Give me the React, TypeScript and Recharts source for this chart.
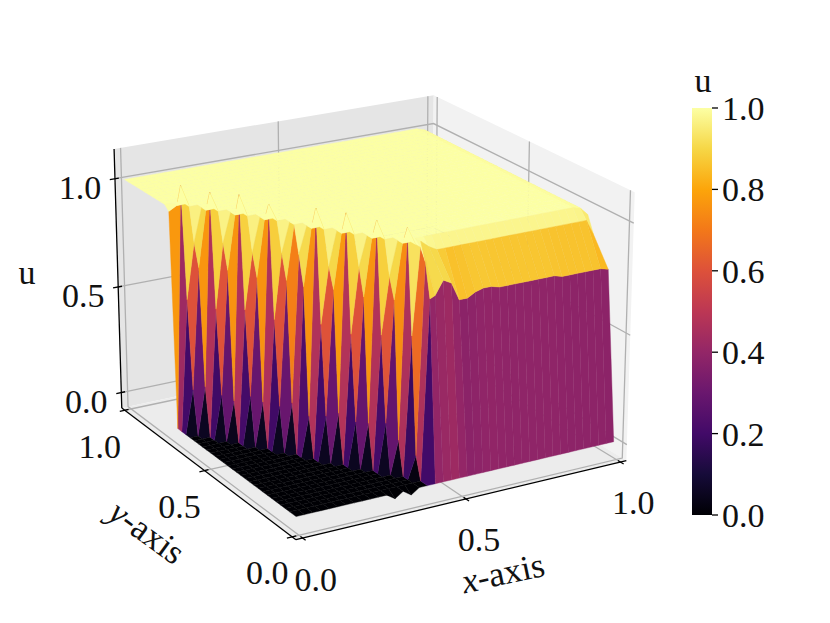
import { Bar, BarChart, ComposedChart, Line, XAxis, YAxis } from 'recharts';

const WIDTH = 830;
const HEIGHT = 623;

// surface samples: u jumps from 0 to 1 along a stepped front, columns are x, rows are y
const columnPositions = [
  0, 0.025, 0.05, 0.075, 0.1, 0.125, 0.15, 0.175, 0.2, 0.225, 0.25, 0.275, 0.3, 0.325, 0.35, 0.375, 0.4, 0.425, 0.45,
  0.475, 0.5, 0.525, 0.55, 0.575, 0.6, 0.625, 0.65, 0.675, 0.7, 0.725, 0.75, 0.775, 0.8, 0.825, 0.85, 0.875, 0.9,
  0.925, 0.95, 0.975, 1,
];
// rows of the oscillating part (x below 0.45)
const rowPositions = [
  0.015, 0.05, 0.075, 0.1, 0.125, 0.15, 0.175, 0.2, 0.225, 0.25, 0.275, 0.3, 0.325, 0.35, 0.375, 0.4, 0.425, 0.45,
  0.475, 0.5, 0.525, 0.55, 0.575, 0.6, 0.625, 0.65, 0.675, 0.7, 0.725, 0.75, 0.775, 0.8, 0.825, 0.85, 0.875, 0.9,
  0.925, 0.95, 0.975, 1,
];
// rows of the smooth part (x from 0.45)
const smoothRowPositions = [
  0.015, 0.065, 0.14, 0.17, 0.18, 0.19, 0.2, 0.21, 0.225, 0.25, 0.275, 0.3, 0.325, 0.35, 0.375, 0.4, 0.425, 0.45,
  0.475, 0.5, 0.525, 0.55, 0.575, 0.6, 0.625, 0.65, 0.675, 0.7, 0.725, 0.75, 0.775, 0.8, 0.825, 0.85, 0.875, 0.9,
  0.925, 0.95, 0.975, 1,
];
const frontRow = [
  28, 26, 25, 23, 22, 20, 19, 17, 16, 14, 12, 11, 9, 8, 6, 5, 3, 1, 1, 1, 1, 1, 1, 1, 1, 1, 1, 1, 1, 1, 1, 1, 1, 1, 1,
  1, 1, 1, 1, 1, 1,
];
const edgeRow = [
  0, 0, 0, 0, 0, 0, 0, 0, 0, 0, 0, 0, -0.025, 0, -0.025, 0, 0, 0, 0, 0, 0, 0, 0, 0, 0, 0, 0, 0, 0, 0, 0, 0, 0, 0, 0, 0,
  0, 0, 0, 0, 0,
];
const leadStep = [
  0, 0.2, 0.22, 0.2, 0.18, 0.22, 0.2, 0.2, 0.22, 0.18, 0.2, 0.22, 0.2, 0.2, 0.22, 0.15, 0.1, 0, 0, 0, 0, 0, 0, 0,
  0, 0, 0, 0, 0, 0, 0, 0, 0, 0, 0, 0, 0, 0, 0, 0, 0,
];
const firstStep = [
  0.98, 0.6, 0.75, 0.58, 0.76, 0.6, 0.75, 0.58, 0.76, 0.75, 0.6, 0.76, 0.58, 0.75, 0.6, 0.76, 0.62, 0.8, 0.8, 0.86, 0.84,
  0.76, 0.76, 0.78, 0.79, 0.79, 0.78, 0.78, 0.78, 0.78, 0.78, 0.78, 0.78, 0.78, 0.77, 0.77, 0.77, 0.77, 0.77, 0.77, 0.76,
];
const secondStep = [
  1, 1.1, 0.85, 1.09, 0.87, 1.1, 0.85, 1.08, 0.87, 0.88, 1.1, 0.85, 1.1, 0.87, 1.09, 0.85, 1.08, 0.95, 1, 0.97, 0.95,
  0.95, 0.95, 0.95, 0.95, 0.95, 0.95, 0.95, 0.95, 0.95, 0.95, 0.95, 0.95, 0.95, 0.95, 0.95, 0.95, 0.95, 0.95, 0.95, 0.88,
];
const plateauLevel = [
  1, 1, 1, 1, 1, 1, 1, 1, 1, 1, 1, 1, 1, 1, 1, 1, 1, 1, 1, 1, 1, 1, 1, 1, 1, 1, 1, 1, 1, 1, 1, 1, 1, 1, 1, 1, 1, 1, 1,
  0.99, 0.955,
];
const FIRST_SMOOTH_COLUMN = 18;

const axisTicks = [0, 0.5, 1];
const colorbarTicks = [0, 0.2, 0.4, 0.6, 0.8, 1];
const infernoStops = [
  '#000004', '#160b39', '#420a68', '#6a176e', '#932667', '#bc3754', '#dd513a', '#f37819', '#fca50a', '#f6d746', '#fcffa4',
];

const X_LIM = [-0.02, 1.02];
const Z_LIM = [-0.074, 1.135];
const BOX = [1.1905, 1.1905, 0.8929];
const ELEV = (20.5 * Math.PI) / 180;
const AZIM = (-120 * Math.PI) / 180;
const DIST = 10;
const SCALE = 3150;
const CENTER = [369, 304];

const w3 = [Math.cos(ELEV) * Math.cos(AZIM), Math.cos(ELEV) * Math.sin(AZIM), Math.sin(ELEV)];
const len = Math.hypot(w3[0], w3[1]);
const u3 = [-w3[1] / len, w3[0] / len, 0];
const v3 = [
  w3[1] * u3[2] - w3[2] * u3[1],
  w3[2] * u3[0] - w3[0] * u3[2],
  w3[0] * u3[1] - w3[1] * u3[0],
];

// same camera as a matplotlib 3d axes
function project(x: number, y: number, z: number) {
  const p = [
    ((x - X_LIM[0]) / (X_LIM[1] - X_LIM[0]) - 0.5) * BOX[0],
    ((y - X_LIM[0]) / (X_LIM[1] - X_LIM[0]) - 0.5) * BOX[1],
    ((z - Z_LIM[0]) / (Z_LIM[1] - Z_LIM[0]) - 0.5) * BOX[2],
  ];
  const d = p.map((c, i) => c - w3[i] * DIST);
  const depth = d[0] * w3[0] + d[1] * w3[1] + d[2] * w3[2];
  const sx = (d[0] * u3[0] + d[1] * u3[1] + d[2] * u3[2]) / -depth;
  const sy = (d[0] * v3[0] + d[1] * v3[1] + d[2] * v3[2]) / -depth;
  return { px: CENTER[0] + SCALE * sx, py: CENTER[1] - SCALE * sy, depth };
}

function inferno(t: number) {
  const s = Math.min(Math.max(t, 0), 1) * 10;
  const i = Math.min(Math.floor(s), 9);
  const a = parseInt(infernoStops[i].slice(1), 16);
  const b = parseInt(infernoStops[i + 1].slice(1), 16);
  const mix = (shift: number) => {
    const ca = (a >> shift) & 255;
    const cb = (b >> shift) & 255;
    return Math.round(ca + (cb - ca) * (s - i));
  };
  return `rgb(${mix(16)},${mix(8)},${mix(0)})`;
}

function sampleU(i: number, j: number) {
  const k = j - frontRow[i];
  if (j === 0) return edgeRow[i];
  if (k < -1) return 0;
  if (k === -1) return leadStep[i];
  if (k === 0) return firstStep[i];
  if (k === 1) return secondStep[i];
  return plateauLevel[i];
}

function samplePoint(i: number, j: number) {
  const rows = i >= FIRST_SMOOTH_COLUMN ? smoothRowPositions : rowPositions;
  return [columnPositions[i], rows[j], sampleU(i, j)];
}

type Prim = { pts: number[][]; fill: string; stroke: string; width: number };

function toVertices(prims: Prim[]) {
  return prims.flatMap((prim, id) =>
    prim.pts.map((pt, corner) => {
      const { px, py } = project(pt[0], pt[1], pt[2]);
      return { px, py, id, corner, count: prim.pts.length, fill: prim.fill, stroke: prim.stroke, width: prim.width };
    }),
  );
}

const [lo, hi] = X_LIM;
const [zLo, zHi] = Z_LIM;

const panes: Prim[] = [
  { pts: [[lo, hi, zLo], [hi, hi, zLo], [hi, hi, zHi], [lo, hi, zHi]], fill: '#e5e5e5', stroke: 'none', width: 0 },
  { pts: [[hi, lo, zLo], [hi, hi, zLo], [hi, hi, zHi], [hi, lo, zHi]], fill: '#f2f2f2', stroke: 'none', width: 0 },
  { pts: [[lo, lo, zLo], [hi, lo, zLo], [hi, hi, zLo], [lo, hi, zLo]], fill: '#ececec', stroke: 'none', width: 0 },
];

const GRID = { fill: 'none', stroke: '#b0b0b0', width: 1.3 };
const INK = { fill: 'none', stroke: '#000', width: 1.3 };
const gridLines: Prim[] = axisTicks.flatMap((t) => [
  { pts: [[t, lo, zLo], [t, hi, zLo], [t, hi, zHi]], ...GRID },
  { pts: [[lo, t, zLo], [hi, t, zLo], [hi, t, zHi]], ...GRID },
  { pts: [[lo, hi, t], [hi, hi, t], [hi, lo, t]], ...GRID },
]);
const axisLines: Prim[] = [
  { pts: [[lo, lo, zLo], [hi, lo, zLo]], ...INK },
  { pts: [[lo, lo, zLo], [lo, hi, zLo]], ...INK },
  { pts: [[lo, hi, zLo], [lo, hi, zHi]], ...INK },
  ...axisTicks.flatMap((t) => [
    { pts: [[t, lo + 0.012, zLo], [t, lo - 0.016, zLo]], ...INK },
    { pts: [[lo + 0.012, t, zLo], [lo - 0.016, t, zLo]], ...INK },
    { pts: [[lo + 0.012, hi, t], [lo - 0.016, hi, t]], ...INK },
  ]),
];

const surfaceCells = columnPositions.slice(0, -1).flatMap((_x, i) =>
  rowPositions.slice(0, -1).map((_y, j) => {
    const pts = [samplePoint(i, j), samplePoint(i + 1, j), samplePoint(i + 1, j + 1), samplePoint(i, j + 1)];
    const mean = (pts[0][2] + pts[1][2] + pts[2][2] + pts[3][2]) / 4;
    const depth = pts.reduce((sum, p) => sum + project(p[0], p[1], p[2]).depth, 0) / 4;
    const fill = inferno(mean);
    return { pts, fill, stroke: fill, width: 0.4, depth };
  }),
);
surfaceCells.sort((a, b) => a.depth - b.depth);

const tickLabels = axisTicks.flatMap((t) => [
  { ...project(t, lo, zLo), text: t.toFixed(1), dx: 13, dy: 41 },
  { ...project(lo, t, zLo), text: t.toFixed(1), dx: -25, dy: 36 },
  { ...project(lo, hi, t), text: t.toFixed(1), dx: -35, dy: 9 },
]);

const colorbarData = [{ name: 'u', range: [0, 1] }];

const serif = '"Liberation Serif", serif';

function drawPrim(props: any) {
  const { index, payload, points } = props;
  if (payload.corner !== 0) return <g key={index} />;
  const pts = points
    .slice(index, index + payload.count)
    .map((p: any) => `${p.x},${p.y}`)
    .join(' ');
  return payload.count === 2 || payload.fill === 'none' ? (
    <polyline key={index} points={pts} fill="none" stroke={payload.stroke} strokeWidth={payload.width} />
  ) : (
    <polygon key={index} points={pts} fill={payload.fill} stroke={payload.stroke} strokeWidth={payload.width} />
  );
}

function drawLabel(props: any) {
  const { index, cx, cy, payload } = props;
  return (
    <text key={index} x={cx + payload.dx} y={cy + payload.dy} fontFamily={serif} fontSize={34} textAnchor="middle" dominantBaseline="central" fill="#111">
      {payload.text}
    </text>
  );
}

export default function App() {
  return (
    <div style={{ position: 'absolute', left: 0, top: 0, width: WIDTH, height: HEIGHT, background: '#fff' }}>
      <div style={{ position: 'absolute', left: 0, top: 0 }}>
        <ComposedChart width={WIDTH} height={HEIGHT} margin={{ top: 0, right: 0, bottom: 0, left: 0 }}>
          <XAxis type="number" dataKey="px" domain={[0, WIDTH]} hide />
          <YAxis type="number" domain={[0, HEIGHT]} reversed hide width={0} />
          <Line data={toVertices(panes)} dataKey="py" stroke="none" dot={drawPrim} activeDot={false} isAnimationActive={false} legendType="none" />
          <Line data={toVertices(gridLines)} dataKey="py" stroke="none" dot={drawPrim} activeDot={false} isAnimationActive={false} legendType="none" />
          <Line data={toVertices(axisLines)} dataKey="py" stroke="none" dot={drawPrim} activeDot={false} isAnimationActive={false} legendType="none" />
          <Line data={toVertices(surfaceCells)} dataKey="py" stroke="none" dot={drawPrim} activeDot={false} isAnimationActive={false} legendType="none" />
          <Line data={tickLabels} dataKey="py" stroke="none" dot={drawLabel} activeDot={false} isAnimationActive={false} legendType="none" />
          <text x={27} y={272} fontFamily={serif} fontSize={34} textAnchor="middle" dominantBaseline="central" fill="#111">u</text>
          <text x={503} y={573} fontFamily={serif} fontSize={35} textAnchor="middle" dominantBaseline="central" fill="#111" transform="rotate(-12 503 573)">
            <tspan fontStyle="italic">x</tspan>-axis
          </text>
          <text x={147} y={532} fontFamily={serif} fontSize={35} textAnchor="middle" dominantBaseline="central" fill="#111" transform="rotate(36 147 532)">
            <tspan fontStyle="italic">y</tspan>-axis
          </text>
        </ComposedChart>
      </div>
      <div style={{ position: 'absolute', left: 0, top: 0 }}>
        <BarChart width={WIDTH} height={HEIGHT} data={colorbarData} barCategoryGap={0} margin={{ top: 108, right: 0, bottom: 108, left: 692 }}>
          <defs>
            <linearGradient id="infernoBar" x1="0" y1="1" x2="0" y2="0">
              {infernoStops.map((c, i) => (
                <stop key={c} offset={`${i * 10}%`} stopColor={c} />
              ))}
            </linearGradient>
          </defs>
          <XAxis dataKey="name" hide />
          <YAxis
            orientation="right"
            width={118}
            domain={[0, 1]}
            ticks={colorbarTicks}
            tickFormatter={(v: number) => v.toFixed(1)}
            axisLine={false}
            tickSize={6}
            tickMargin={4}
            tickLine={{ stroke: '#000', strokeWidth: 1.3 }}
            tick={{ fontFamily: serif, fontSize: 34, fill: '#111' }}
            interval={0}
          />
          <Bar dataKey="range" fill="url(#infernoBar)" isAnimationActive={false} />
          <text x={703} y={80} fontFamily={serif} fontSize={34} textAnchor="middle" dominantBaseline="central" fill="#111">u</text>
        </BarChart>
      </div>
    </div>
  );
}
